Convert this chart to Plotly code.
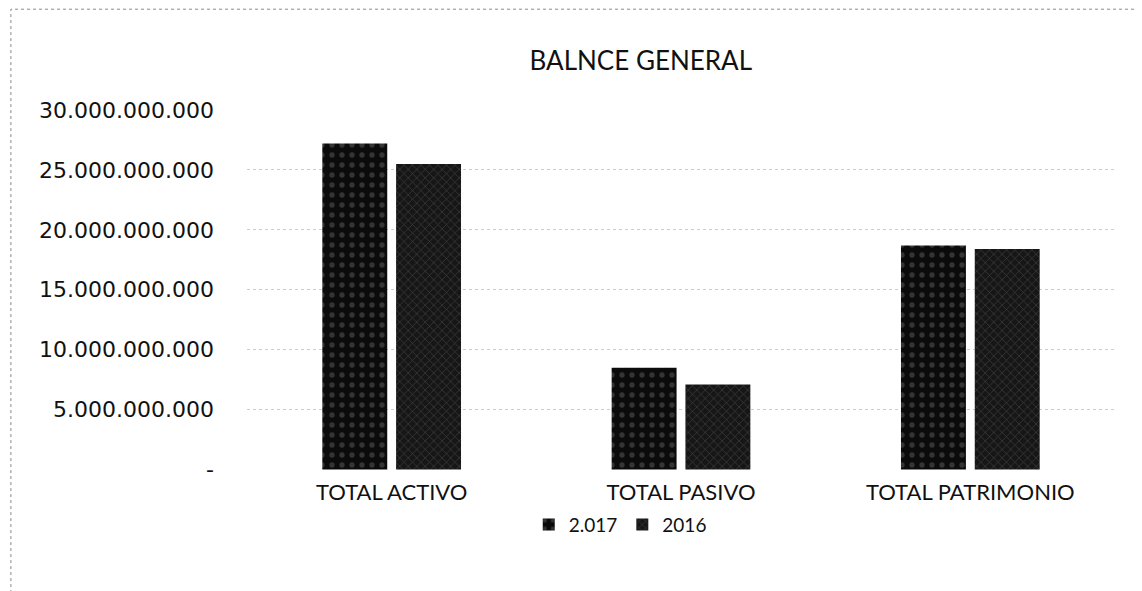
import plotly.graph_objects as go

categories = ["TOTAL ACTIVO", "TOTAL PASIVO", "TOTAL PATRIMONIO"]
values_2017 = [27200000000, 8500000000, 18700000000]
values_2016 = [25500000000, 7100000000, 18400000000]
tick_vals = [0, 5000000000, 10000000000, 15000000000, 20000000000, 25000000000, 30000000000]
tick_text = ["-", "5.000.000.000", "10.000.000.000", "15.000.000.000",
             "20.000.000.000", "25.000.000.000", "30.000.000.000"]

fig = go.Figure()
fig.add_trace(go.Bar(
    name="2.017", x=categories, y=values_2017,
    marker=dict(color="#0b0b0b", line=dict(width=0),
                pattern=dict(shape=".", fgcolor="#5e5e5e", size=10, solidity=0.22)),
))
fig.add_trace(go.Bar(
    name="2016", x=categories, y=values_2016,
    marker=dict(color="#161616", line=dict(width=0),
                pattern=dict(shape="x", fgcolor="#6e6e6e", size=6, solidity=0.2)),
))

lato = "Lato, 'Open Sans', sans-serif"
dejavu = "'DejaVu Sans', Verdana, sans-serif"

# page body has an 8px default margin, so the figure is sized to fit the window
fig.update_layout(
    width=1134, height=583,
    paper_bgcolor="white", plot_bgcolor="white",
    margin=dict(l=239, r=27, t=102, b=121),
    barmode="group", bargap=0.49, bargroupgap=0.12,
    title=dict(text="BALNCE GENERAL", x=0.558, xanchor="center", y=0.909, yanchor="middle",
               font=dict(family=lato, size=26, color="#111")),
    font=dict(family=lato, color="#111"),
    showlegend=True,
    legend=dict(orientation="h", x=0.43, xanchor="center", y=-0.152, yanchor="middle",
                font=dict(size=19, color="#111"), itemwidth=30, traceorder="normal"),
    shapes=[dict(type="rect", xref="paper", yref="paper", x0=-0.272, x1=1.06, y0=-0.4, y1=1.28,
                 line=dict(color="#8a8a8a", width=1, dash="dot"), layer="below")],
)
fig.update_yaxes(range=[-40000000, 30000000000], tickvals=tick_vals, ticktext=tick_text,
                 tickfont=dict(family=dejavu, size=22, color="#111"), ticklabelstandoff=32,
                 showgrid=True, gridcolor="#cdcdcd", griddash="dot", gridwidth=1,
                 zeroline=False, showline=False, ticks="")
fig.update_xaxes(tickfont=dict(family=lato, size=22, color="#111"), showline=False, ticks="",
                 showgrid=False, ticklabelstandoff=7)

fig.write_html("out.html")
